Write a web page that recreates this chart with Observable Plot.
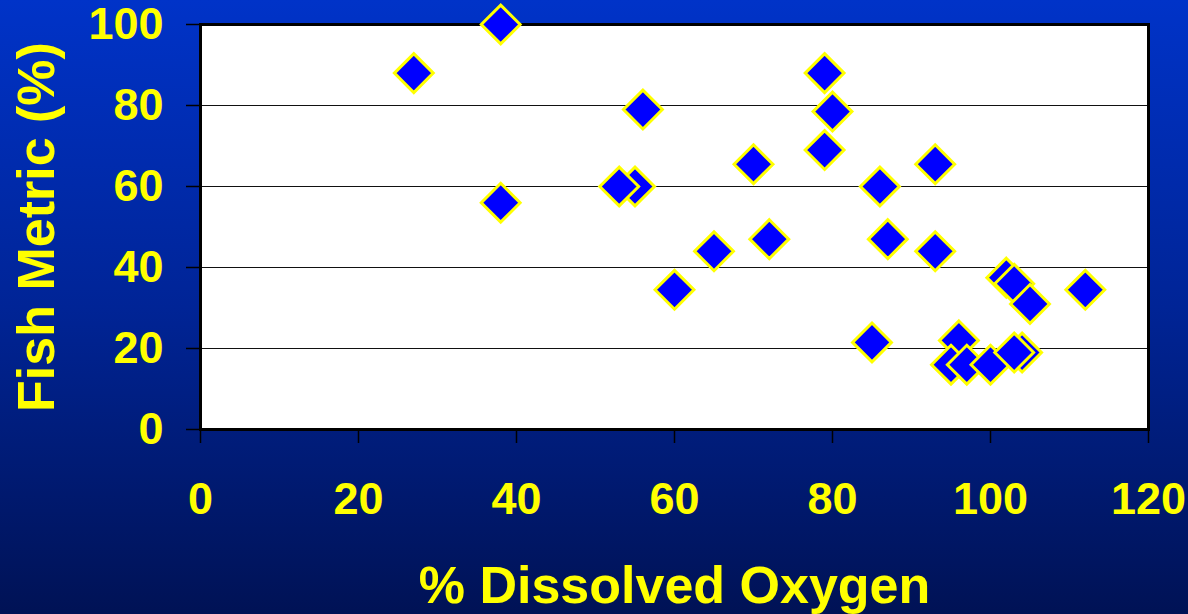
<!DOCTYPE html>
<html>
<head>
<meta charset="utf-8">
<script src="https://cdn.jsdelivr.net/npm/d3@7"></script>
<script src="https://cdn.jsdelivr.net/npm/@observablehq/plot@0.6"></script>
<style>
  html, body { margin: 0; padding: 0; }
  body {
    width: 1188px; height: 614px; overflow: hidden;
    background: linear-gradient(to bottom, rgb(0,51,200) 0%, rgb(0,36,150) 50%, rgb(0,18,85) 100%);
  }
  #chart svg { display: block; background: transparent; }
</style>
</head>
<body>
<div id="chart"></div>
<script>
// Dissolved oxygen saturation (%) at each site and its fish metric score (%)
const dissolvedOxygen = [27, 38, 38, 56, 55, 53, 60, 65, 70, 72, 79, 80, 79, 86, 93, 87, 93, 85,
                         102, 103, 105, 112, 96, 95, 97, 100, 104, 103];
const fishMetric      = [88, 100, 56, 79, 60, 60, 34.5, 44, 65.5, 47, 88, 78.5, 69, 60, 65.5, 47, 44, 21.5,
                         37.5, 36, 31, 34.5, 22, 16, 16, 16, 19, 19];

const xTicks = [0, 20, 40, 60, 80, 100, 120];
const yTicks = [0, 20, 40, 60, 80, 100];
const gridLines = [20, 40, 60, 80];

const xTitle = "% Dissolved Oxygen";
const yTitle = "Fish Metric (%)";

const sites = dissolvedOxygen.map((d, i) => ({oxygen: d, metric: fishMetric[i]}));

const yellow = "#FFFF00";
const font = "'Liberation Sans', Arial, Helvetica, sans-serif";

const chart = Plot.plot({
  width: 1188,
  height: 614,
  marginLeft: 200,
  marginRight: 40,
  marginTop: 24,
  marginBottom: 185,
  style: {fontFamily: font, fontWeight: "bold", background: "transparent", overflow: "visible"},
  x: {domain: [0, 120]},
  y: {domain: [0, 100]},
  marks: [
    Plot.frame({fill: "white", stroke: null}),
    Plot.ruleY(gridLines, {stroke: "#111", strokeWidth: 1}),
    Plot.frame({stroke: "black", strokeWidth: 3}),
    Plot.axisY(yTicks, {
      label: null, tickSize: 14, tickPadding: 23, fontSize: 45, fontWeight: "bold",
      stroke: "black", strokeWidth: 1.5, fill: yellow
    }),
    Plot.axisX(xTicks, {
      label: null, tickSize: 14, tickPadding: 39, fontSize: 45, fontWeight: "bold",
      stroke: "black", strokeWidth: 1.5, fill: yellow
    }),
    Plot.dot(sites, {
      x: "oxygen", y: "metric", symbol: "diamond2", r: 17.5,
      fill: "#0000FF", stroke: yellow, strokeWidth: 3
    }),
    Plot.text([xTitle], {
      text: d => d, frameAnchor: "bottom", dy: 157, lineAnchor: "middle",
      fontSize: 52, fontWeight: "bold", fill: yellow
    }),
    Plot.text([yTitle], {
      text: d => d, frameAnchor: "left", dx: -163, rotate: -90,
      textAnchor: "middle", lineAnchor: "middle",
      fontSize: 52, fontWeight: "bold", fill: yellow
    })
  ]
});

document.getElementById("chart").appendChild(chart);
</script>
</body>
</html>
